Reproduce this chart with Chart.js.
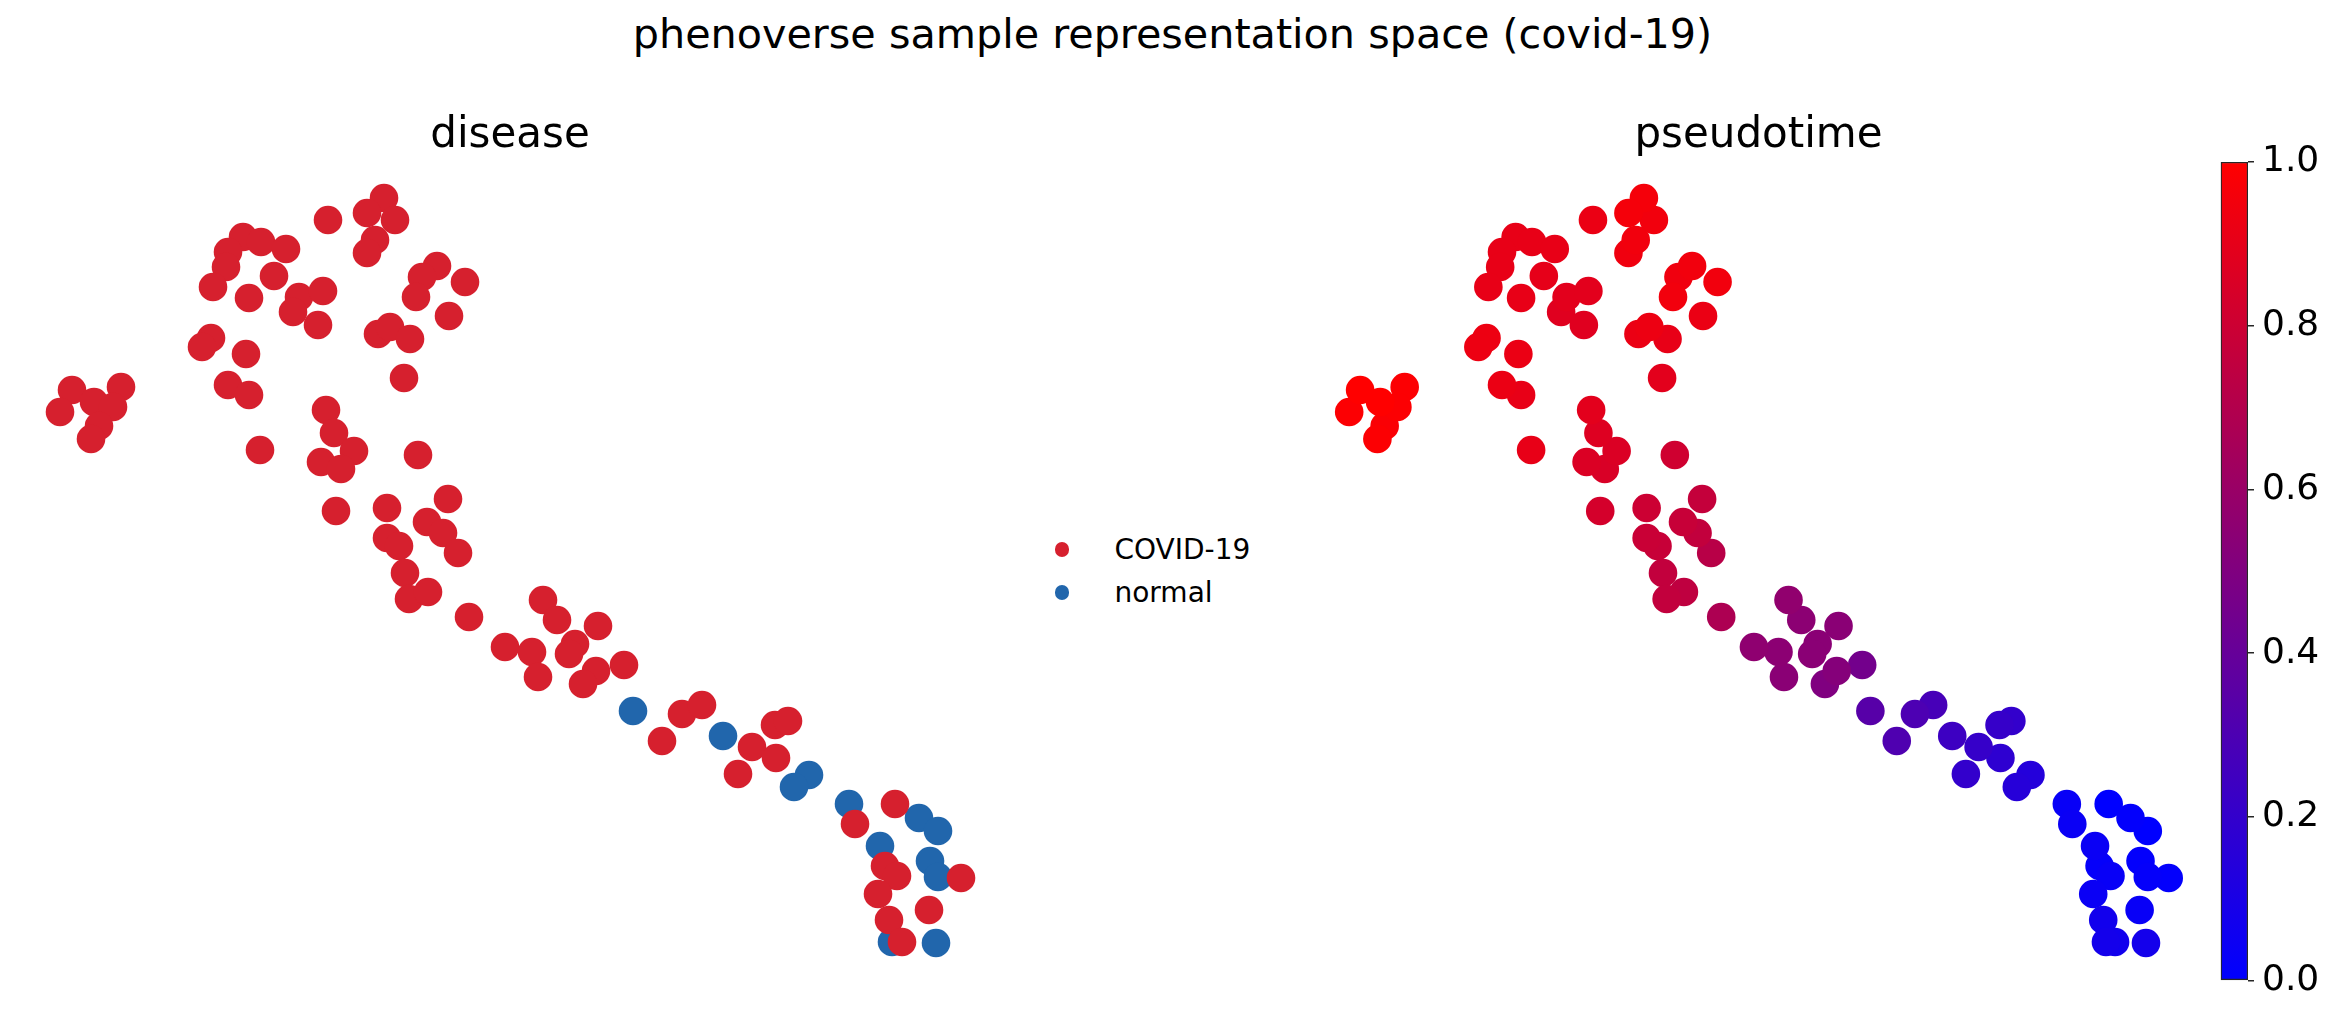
<!DOCTYPE html>
<html>
<head>
<meta charset="utf-8">
<title>phenoverse sample representation space (covid-19)</title>
<script src="https://cdn.jsdelivr.net/npm/chart.js@4.4.1/dist/chart.umd.min.js"></script>
<style>
  html, body { margin: 0; padding: 0; background: #fff; }
  body { width: 2337px; height: 1018px; position: relative; overflow: hidden; font-family: 'DejaVu Sans', sans-serif; color: #000; }
  #suptitle { position: absolute; left: 4px; top: 14px; width: 2337px; text-align: center; font-size: 41.3px; line-height: 1; white-space: nowrap; }
  canvas { position: absolute; }
  #disease-chart { left: 0; top: 100px; }
  #pseudotime-chart { left: 1291px; top: 100px; }
  #colorbar { left: 2190px; top: 100px; }
  #disease-legend { position: absolute; left: 1054.6px; top: 535.6px; }
  .legend-row { display: flex; align-items: center; height: 28px; margin-bottom: 15px; font-size: 28px; line-height: 28px; white-space: nowrap; }
  .legend-dot { width: 14.7px; height: 14.7px; border-radius: 50%; margin-right: 45.2px; flex: none; }
</style>
</head>
<body>
<div id="suptitle">phenoverse sample representation space (covid-19)</div>
<canvas id="disease-chart" width="1000" height="900"></canvas>
<canvas id="pseudotime-chart" width="915" height="900"></canvas>
<canvas id="colorbar" width="147" height="918"></canvas>
<div id="disease-legend"></div>
<script>
// --- Data (UMAP-like units) ---
const umap1 = [
  3.84, 3.67, 3.95, 3.28, 3.75, 3.67, 2.43, 2.61, 2.86, 2.28,
  2.26, 2.13, 2.74, 2.49, 2.99, 3.23, 2.93, 3.18, 4.37, 4.22,
  4.16, 4.65, 4.49, 3.78, 3.90, 4.10, 4.04, 2.11, 2.02, 2.46,
  2.28, 2.49, 0.72, 1.21, 0.60, 0.94, 1.13, 0.99, 0.91, 3.26,
  3.34, 3.54, 3.21, 3.41, 4.18, 2.60, 3.36, 3.87, 4.48, 4.27,
  4.43, 3.87, 3.99, 4.58, 4.05, 4.09, 4.28, 4.69, 5.43, 5.57,
  5.98, 5.75, 5.69, 5.05, 5.32, 5.38, 5.96, 5.83, 6.24, 6.33,
  6.62, 6.82, 7.02, 7.23, 7.75, 7.88, 7.52, 7.76, 7.38, 8.09,
  7.94, 8.49, 8.55, 8.95, 9.19, 9.38, 8.80, 9.30, 8.85, 8.97,
  9.38, 9.61, 8.78, 9.29, 8.89, 8.92, 9.02, 9.36
];
const umap2 = [
  8.02, 7.87, 7.80, 7.80, 7.60, 7.47, 7.63, 7.58, 7.51, 7.48,
  7.33, 7.13, 7.24, 7.02, 7.03, 7.09, 6.88, 6.75, 7.34, 7.23,
  7.03, 7.18, 6.84, 6.66, 6.73, 6.61, 6.22, 6.62, 6.53, 6.46,
  6.15, 6.05, 6.10, 6.13, 5.88, 5.98, 5.93, 5.74, 5.61, 5.90,
  5.67, 5.49, 5.38, 5.31, 5.45, 5.50, 4.89, 4.92, 5.01, 4.78,
  4.67, 4.62, 4.54, 4.47, 4.27, 4.01, 4.08, 3.83, 4.00, 3.80,
  3.74, 3.56, 3.46, 3.53, 3.48, 3.23, 3.29, 3.16, 3.35, 2.89,
  2.59, 2.86, 2.95, 2.64, 2.75, 2.79, 2.53, 2.42, 2.26, 2.25,
  2.13, 1.96, 1.76, 1.96, 1.82, 1.69, 1.54, 1.39, 1.34, 1.24,
  1.23, 1.22, 1.06, 0.90, 0.80, 0.58, 0.58, 0.57
];
const C = 'COVID-19', N = 'normal';
const disease = [
  C, C, C, C, C, C, C, C, C, C,
  C, C, C, C, C, C, C, C, C, C,
  C, C, C, C, C, C, C, C, C, C,
  C, C, C, C, C, C, C, C, C, C,
  C, C, C, C, C, C, C, C, C, C,
  C, C, C, C, C, C, C, C, C, C,
  C, C, C, C, C, C, C, C, C, N,
  C, C, C, N, C, C, C, C, C, N,
  N, N, C, C, N, N, N, N, C, C,
  N, C, C, C, C, N, C, N
];
const pseudotime = [
  0.96, 0.96, 0.95, 0.92, 0.95, 0.94, 0.91, 0.91, 0.91, 0.91,
  0.91, 0.91, 0.90, 0.91, 0.89, 0.89, 0.88, 0.88, 0.95, 0.94,
  0.95, 0.95, 0.92, 0.92, 0.93, 0.91, 0.89, 0.93, 0.93, 0.92,
  0.92, 0.91, 1.00, 0.99, 0.99, 1.00, 0.99, 0.98, 0.99, 0.89,
  0.87, 0.86, 0.86, 0.85, 0.81, 0.91, 0.83, 0.80, 0.77, 0.78,
  0.76, 0.79, 0.78, 0.72, 0.76, 0.76, 0.75, 0.68, 0.57, 0.55,
  0.54, 0.54, 0.54, 0.56, 0.55, 0.54, 0.52, 0.50, 0.45, 0.34,
  0.31, 0.30, 0.28, 0.24, 0.21, 0.20, 0.21, 0.18, 0.20, 0.14,
  0.15, 0.03, 0.04, 0.00, 0.01, 0.00, 0.04, 0.01, 0.02, 0.03,
  0.02, 0.01, 0.04, 0.03, 0.07, 0.08, 0.07, 0.08
];
const categories = ['COVID-19', 'normal'];
const categoryColors = ['#d6202e', '#2166ac'];
const colorbarTicks = [0.0, 0.2, 0.4, 0.6, 0.8, 1.0];

// --- Shared settings ---
const FONT = "'DejaVu Sans', sans-serif";
const POINT_R = 14.3;
const xRange = { min: 0.4, max: 9.8 };
const yRange = { min: 0.3, max: 8.29 };

// blue -> red linear colormap
function blueRed(t) {
  const r = Math.round(255 * t);
  const b = Math.round(255 * (1 - t));
  return `rgb(${r}, 0, ${b})`;
}

const points = umap1.map((x, i) => ({ x, y: umap2[i], disease: disease[i], t: pseudotime[i] }));

function panelOptions(title) {
  return {
    responsive: false,
    animation: false,
    events: [],
    layout: { padding: { left: 40, right: 20, top: 0, bottom: 30 } },
    scales: {
      x: { type: 'linear', display: false, min: xRange.min, max: xRange.max },
      y: { type: 'linear', display: false, min: yRange.min, max: yRange.max }
    },
    plugins: {
      legend: { display: false },
      tooltip: { enabled: false },
      title: {
        display: true,
        text: title,
        fullSize: false,
        color: '#000',
        font: { family: FONT, size: 42, weight: 'normal', lineHeight: 1 },
        padding: { top: 15, bottom: 14 }
      }
    }
  };
}

// HTML legend for the disease panel, built from the chart's own legend items
const htmlLegend = {
  id: 'htmlLegend',
  afterUpdate(chart) {
    const box = document.getElementById('disease-legend');
    box.innerHTML = '';
    const items = chart.options.plugins.legend.labels.generateLabels(chart);
    items.forEach(item => {
      const row = document.createElement('div');
      row.className = 'legend-row';
      const dot = document.createElement('span');
      dot.className = 'legend-dot';
      dot.style.background = item.fillStyle;
      const label = document.createElement('span');
      label.textContent = item.text;
      row.append(dot, label);
      box.appendChild(row);
    });
  }
};

// --- disease panel ---
new Chart(document.getElementById('disease-chart'), {
  type: 'scatter',
  data: {
    datasets: categories.map((cat, k) => ({
      label: cat,
      data: points.filter(p => p.disease === cat),
      backgroundColor: categoryColors[k],
      borderWidth: 0,
      pointBorderWidth: 0,
      pointRadius: POINT_R,
      clip: false
    }))
  },
  options: panelOptions('disease'),
  plugins: [htmlLegend]
});

// --- pseudotime panel (higher values drawn on top) ---
const byTime = points.slice().sort((a, b) => a.t - b.t);
new Chart(document.getElementById('pseudotime-chart'), {
  type: 'scatter',
  data: {
    datasets: [{
      label: 'pseudotime',
      data: byTime,
      backgroundColor: byTime.map(p => blueRed(p.t)),
      borderWidth: 0,
      pointBorderWidth: 0,
      pointRadius: POINT_R,
      clip: false
    }]
  },
  options: panelOptions('pseudotime')
});

// --- colorbar ---
new Chart(document.getElementById('colorbar'), {
  type: 'bar',
  data: {
    labels: ['pseudotime'],
    datasets: [{
      data: [[0, 1]],
      backgroundColor: (ctx) => {
        const area = ctx.chart.chartArea;
        if (!area) return blueRed(0.5);
        const g = ctx.chart.ctx.createLinearGradient(0, area.bottom, 0, area.top);
        colorbarTicks.forEach(v => g.addColorStop(v, blueRed(v)));
        return g;
      },
      borderColor: '#262626',
      borderWidth: 1.5,
      borderSkipped: false,
      barPercentage: 1,
      categoryPercentage: 1
    }]
  },
  options: {
    responsive: false,
    animation: false,
    events: [],
    layout: { padding: { left: 30.7, right: 0, top: 62, bottom: 37.3 } },
    scales: {
      x: { display: false },
      y: {
        position: 'right',
        min: 0,
        max: 1,
        afterBuildTicks: (scale) => { scale.ticks = colorbarTicks.map(v => ({ value: v })); },
        afterFit: (scale) => { scale.width = 89; },
        grid: { drawOnChartArea: false, drawTicks: true, tickLength: 6, color: '#262626', lineWidth: 1.5 },
        border: { display: false },
        ticks: {
          color: '#000',
          padding: 8,
          font: { family: FONT, size: 36 },
          callback: (value) => Number(value).toFixed(1)
        }
      }
    },
    plugins: { legend: { display: false }, tooltip: { enabled: false } }
  }
});
</script>
</body>
</html>
